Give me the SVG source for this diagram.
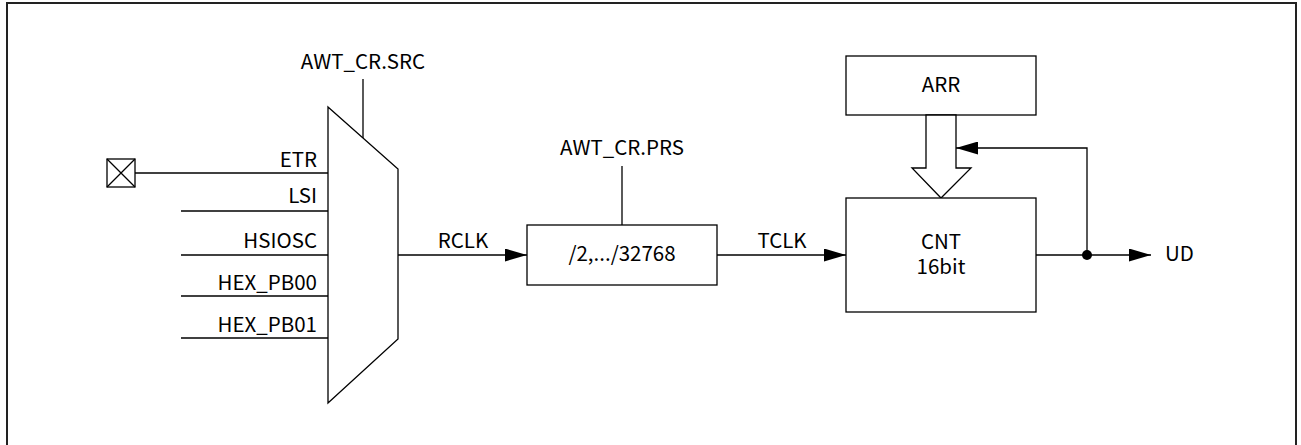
<svg xmlns="http://www.w3.org/2000/svg" width="1301" height="445" viewBox="0 0 1301 445">
<style>
.ln{stroke:#000;stroke-width:1.3;fill:none}
.bx{stroke:#000;stroke-width:1.3;fill:#fff}
text{font-family:"Noto Sans CJK SC","Noto Sans",sans-serif;font-size:20.5px;fill:#000}
.r{text-anchor:end}
.m{text-anchor:middle}
</style>
<defs>
<marker id="ah" viewBox="0 0 22 13" refX="22" refY="6.5" markerWidth="22" markerHeight="13" markerUnits="userSpaceOnUse" orient="auto">
<path d="M0,0 L22,6.5 L0,13 Z" fill="#000"/>
</marker>
</defs>
<rect x="7" y="3" width="1289" height="460" fill="none" stroke="#222" stroke-width="2"/>
<g id="connectors">
<line class="ln" x1="135" y1="173" x2="328" y2="173"/>
<line class="ln" x1="181" y1="211" x2="328" y2="211"/>
<line class="ln" x1="181" y1="255" x2="328" y2="255"/>
<line class="ln" x1="181" y1="296" x2="328" y2="296"/>
<line class="ln" x1="181" y1="338" x2="328" y2="338"/>
<line class="ln" x1="363" y1="79" x2="363" y2="138"/>
<line class="ln" x1="398" y1="255" x2="527" y2="255" marker-end="url(#ah)"/>
<line class="ln" x1="622" y1="166" x2="622" y2="225"/>
<line class="ln" x1="717" y1="255" x2="846" y2="255" marker-end="url(#ah)"/>
<line class="ln" x1="1036" y1="255" x2="1151" y2="255" marker-end="url(#ah)"/>
<polyline class="ln" points="1087,255 1087,148 956,148" marker-end="url(#ah)"/>
<circle cx="1087" cy="255" r="5" fill="#000"/>
<text class="m" x="463" y="248">RCLK</text>
<text class="m" x="782" y="248">TCLK</text>
<text x="1165" y="261">UD</text>
</g>
<g id="pin">
<rect class="bx" x="107" y="159" width="28" height="28"/>
<path class="ln" d="M107,159 L135,187 M135,159 L107,187"/>
</g>
<g id="mux">
<polygon class="bx" points="328,107 398,169 398,339 328,403"/>
<text class="m" x="363" y="69">AWT_CR.SRC</text>
<text class="r" x="317" y="167">ETR</text>
<text class="r" x="317" y="203">LSI</text>
<text class="r" x="317" y="248">HSIOSC</text>
<text class="r" x="317" y="290">HEX_PB00</text>
<text class="r" x="317" y="332">HEX_PB01</text>
</g>
<g id="prescaler">
<rect class="bx" x="527" y="225" width="190" height="60"/>
<text class="m" x="622" y="261">/2,.../32768</text>
<text class="m" x="622" y="155">AWT_CR.PRS</text>
</g>
<g id="arr">
<rect class="bx" x="846" y="56" width="190" height="59"/>
<text class="m" x="941" y="92">ARR</text>
</g>
<g id="bus">
<polygon class="bx" points="926,115 956,115 956,168 971,168 941,198 912,168 926,168"/>
</g>
<g id="cnt">
<rect class="bx" x="846" y="198" width="190" height="114"/>
<text class="m" x="941" y="249">CNT</text>
<text class="m" x="941" y="274">16bit</text>
</g>
</svg>
